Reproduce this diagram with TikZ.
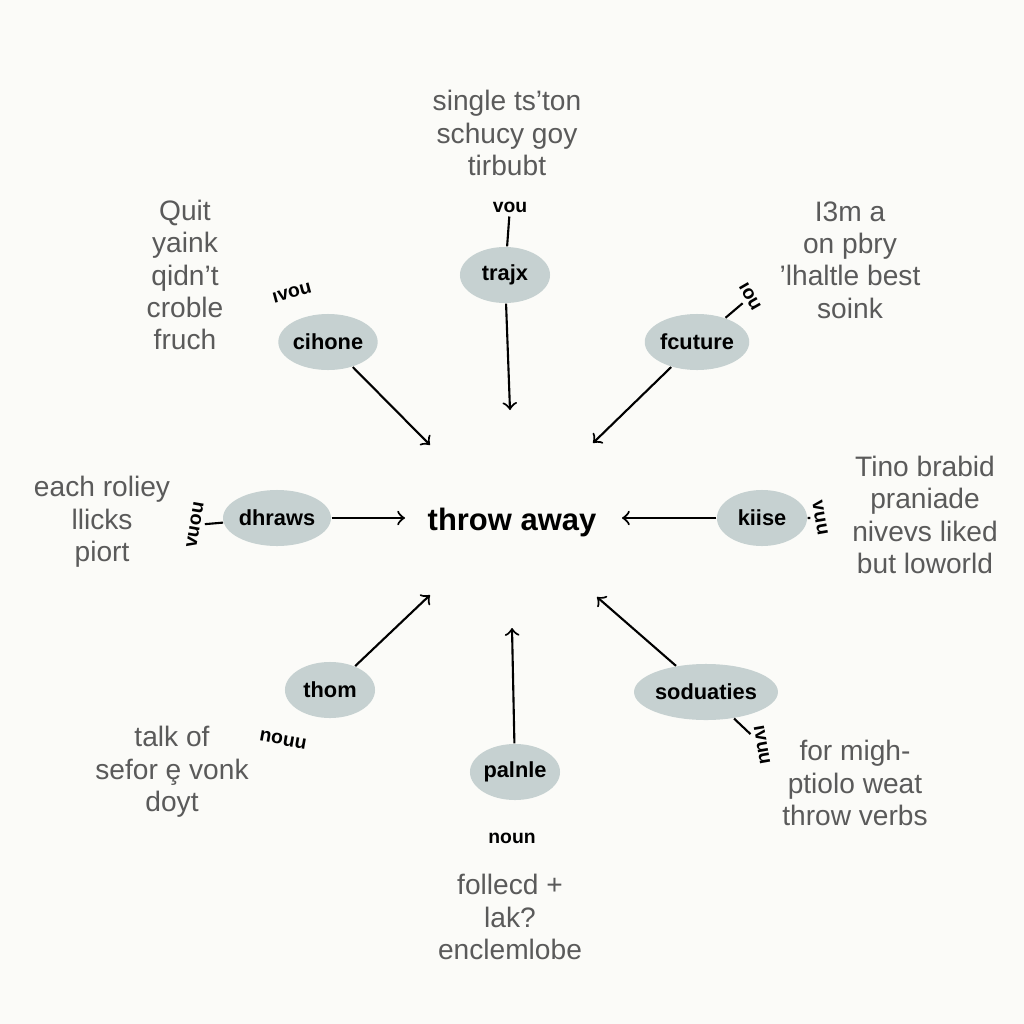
\documentclass[tikz,border=0pt]{standalone}
\usepackage{fontspec}
\setmainfont{Liberation Sans}
\usetikzlibrary{shapes.geometric,positioning}
\definecolor{BlobFill}{HTML}{C6D1D1}
\definecolor{NoteGray}{HTML}{5A5A5A}
\definecolor{PaperBg}{HTML}{FBFBF8}

\begin{document}
\begin{tikzpicture}[x=0.01cm, y=-0.01cm, ->, >=to,
    blob/.style={ellipse, fill=BlobFill, minimum width=0.9cm, minimum height=0.56cm, inner sep=0pt, font=\fontsize{6.2}{7}\selectfont\bfseries},
    note/.style={align=center, text=NoteGray, font=\fontsize{8}{9.2}\selectfont},
    tag/.style={font=\fontsize{5.5}{6}\selectfont\bfseries, inner sep=1pt},
    link/.style={->, semithick}]
        % page and margins
        \fill[PaperBg] (0,0) rectangle (1024,1024);
        \useasboundingbox (0,0) rectangle (1024,1024);

        % the centre word
        \node[font=\fontsize{8.8}{10}\selectfont\bfseries] (hub) at (512,522) {throw away};

        % the blobs with their arrows to the centre
        \foreach \name/\txt/\x/\y/\ax/\ay in {
            trajx/trajx/505/275/510/410,
            cihone/cihone/328/342/430/445,
            fcuture/fcuture/697/342/593/443,
            dhraws/dhraws/277/518/405/518,
            kiise/kiise/762/518/622/518,
            thom/thom/330/690/430/595,
            soduaties/soduaties/706/692/597/597,
            palnle/palnle/515/772/512/628}{
            \node[blob] (\name) at (\x,\y) {\txt};
            \coordinate (\name-tip) at (\ax,\ay);
            \draw[link] (\name) -- (\name-tip);
        }

        % the small tags beside the blobs
        \node[tag] (trajx-tag) at (510,207) {vou};
        \node[tag, rotate=15] (cihone-tag) at (292,293) {ıvou};
        \node[tag, rotate=-60] (fcuture-tag) at (750,297) {ıou};
        \node[tag, rotate=80] (dhraws-tag) at (195,525) {vuou};
        \node[tag, rotate=-80] (kiise-tag) at (820,518) {vuu};
        \node[tag, rotate=-10] (thom-tag) at (283,740) {nouu};
        \node[tag, rotate=-80] (soduaties-tag) at (762,745) {ıvuu};
        \node[tag] (palnle-tag) at (512,838) {noun};
        \foreach \name in {trajx,fcuture,dhraws,kiise,soduaties}{
            \draw[-, semithick] (\name) -- (\name-tag);
        }

        % the notes around the diagram
        \node[note] (n-top) at (507,133) {single ts'ton\\schucy goy\\tirbubt};
        \node[note] (n-ul) at (185,275) {Quit\\yaink\\qidn't\\croble\\fruch};
        \node[note] (n-ur) at (850,260) {I3m a\\on pbry\\'lhaltle best\\soink};
        \node[note] (n-l) at (102,522) {each roliey\\llicks\\piort};
        \node[note] (n-r) at (925,515) {Tino brabid\\praniade\\nivevs liked\\but loworld};
        \node[note] (n-ll) at (172,772) {talk of\\sefor ȩ vonk\\doyt};
        \node[note] (n-lr) at (855,783) {for migh-\\ptiolo weat\\throw verbs};
        \node[note] (n-bot) at (510,917) {follecd +\\lak?\\enclemlobe};
\end{tikzpicture}
\end{document}
